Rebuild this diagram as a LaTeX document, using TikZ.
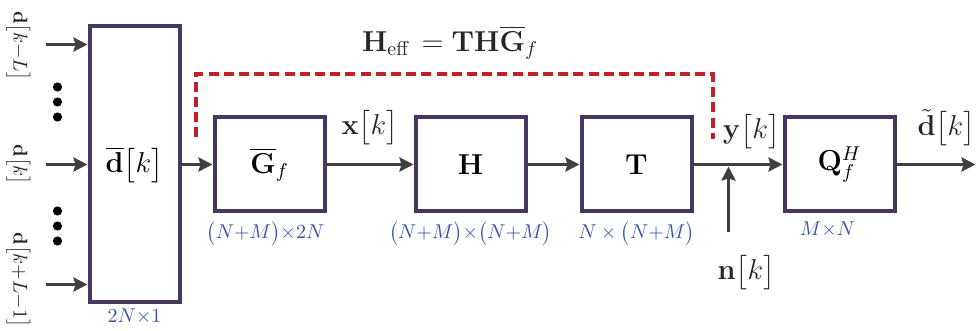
\documentclass[tikz,border=0pt]{standalone}
\usepackage{amsmath}
\usetikzlibrary{positioning,calc,arrows.meta}
\definecolor{cBox}{RGB}{70,55,95}
\definecolor{cArr}{RGB}{64,64,64}
\definecolor{cEff}{RGB}{196,32,44}
\definecolor{cDim}{RGB}{52,84,170}

\begin{document}
\begin{tikzpicture}[
  font=\Large,
  blk/.style  = {draw=cBox, line width=2pt, minimum width=55pt,
                 minimum height=47pt, inner sep=2pt},
  flow/.style = {draw=cArr, line width=1.5pt,
                 -{Stealth[length=7pt, width=7pt, inset=1pt]}},
  sig/.style  = {inner sep=1pt, text=black!85},
  dim/.style  = {font=\normalsize, text=cDim, inner sep=1pt},
  vlab/.style = {rotate=-90, font=\normalsize, inner sep=1pt, text=black!85},
  eff/.style  = {draw=cEff, line width=2pt, dash pattern=on 5pt off 2.6pt}
]
\useasboundingbox (0,0) rectangle (490pt,-165.5pt);

% ------------------------------------------------------------ the blocks --
\node[blk, minimum width=45pt, minimum height=138pt]
      at (67.25pt,-82.25pt)             (dbar) {$\overline{\mathbf{d}}\big[k\big]$};
\node[blk, right=15.5pt of dbar]        (G)    {$\overline{\mathbf{G}}_f$};
\node[blk, right=43.5pt of G]           (H)    {$\mathbf{H}$};
\node[blk, right=26pt of H]             (T)    {$\mathbf{T}$};
\node[blk, right=44.5pt of T]           (Q)    {$\mathbf{Q}_f^H$};

% ------------------------------------------------------- sizes (blue) --
\node[dim, below=1pt of dbar]                 (dimD) {$2N{\times}1$};
\node[dim, below=3pt of G, xshift=-2pt]       (dimG) {$\big(N{+}M\big){\times}2N$};
\node[dim, below=3pt of H]                    (dimH) {$\big(N{+}M\big){\times}\big(N{+}M\big)$};
\node[dim, below=3pt of T]                    (dimT) {$N\times\big(N{+}M\big)$};
\node[dim, below=3pt of Q, xshift=-6pt]       (dimQ) {$M{\times}N$};

% -------------------------------------------------------- the inputs --
\foreach \dy/\nm in {60/a, 0/b, -60/c}
  \coordinate (in\nm) at ([xshift=-21pt, yshift=\dy pt]dbar.west);
\foreach \nm in {a, b, c}
  \draw[flow] (in\nm) -- (in\nm -| dbar.west);

\node[vlab] at ([xshift=-13.5pt, yshift=-0.75pt]ina) (lblA) {$\mathbf{d}\big[k{-}L\big]$};
\node[vlab] at ([xshift=-13.5pt]inb)                 (lblB) {$\mathbf{d}\big[k\big]$};
\node[vlab] at ([xshift=-13.5pt, yshift=2.25pt]inc)  (lblC) {$\mathbf{d}\big[k{+}L{-}1\big]$};

\coordinate (dotsU) at ([xshift=-15pt, yshift=31.25pt]dbar.west);
\coordinate (dotsD) at ([xshift=-15pt, yshift=-30.75pt]dbar.west);
\foreach \c in {dotsU, dotsD}
  \foreach \dy in {-7.5, 0, 7.5}
    \fill[black] ([yshift=\dy pt]\c) circle (2.3pt);

% ------------------------------------------------------------- arrows --
\draw[flow] (dbar) -- (G);
\draw[flow] (G) -- (H) node[sig, midway, yshift=18.5pt] (xk) {$\mathbf{x}\big[k\big]$};
\draw[flow] (H) -- (T);
\draw[flow] (T) -- (Q);
\coordinate (nj)   at ([xshift=17.5pt]T.east);
\coordinate (nsrc) at ([yshift=-34pt]nj);
\draw[flow] (nsrc) -- ([yshift=-1pt]nj);
\node[sig] at ([xshift=9pt, yshift=-54pt]nj)     (nk) {$\mathbf{n}\big[k\big]$};
\node[sig] at ([xshift=11.5pt, yshift=16.5pt]nj) (yk) {$\mathbf{y}\big[k\big]$};

\coordinate (out) at ([xshift=39.5pt]Q.east);
\draw[flow] (Q) -- (out);
\node[sig] at ([xshift=25pt, yshift=18.5pt]Q.east) (dk) {$\tilde{\mathbf{d}}\big[k\big]$};

% ------------------------------------------------ effective channel --
\coordinate (effL)  at ([xshift=-8.5pt, yshift=13.5pt]G.west);
\coordinate (effR)  at ([xshift=9.5pt, yshift=12.5pt]T.east);
\coordinate (effTL) at ([yshift=31.5pt]effL);
\draw[eff] (effL) -- (effTL) -| (effR);
\node[sig] at ($(effTL)!0.5!(effTL -| effR) + (-2pt,16pt)$) (heff)
  {$\mathbf{H}_{\text{eff}}\,=\mathbf{T}\mathbf{H}\overline{\mathbf{G}}_f$};

\end{tikzpicture}
\end{document}
